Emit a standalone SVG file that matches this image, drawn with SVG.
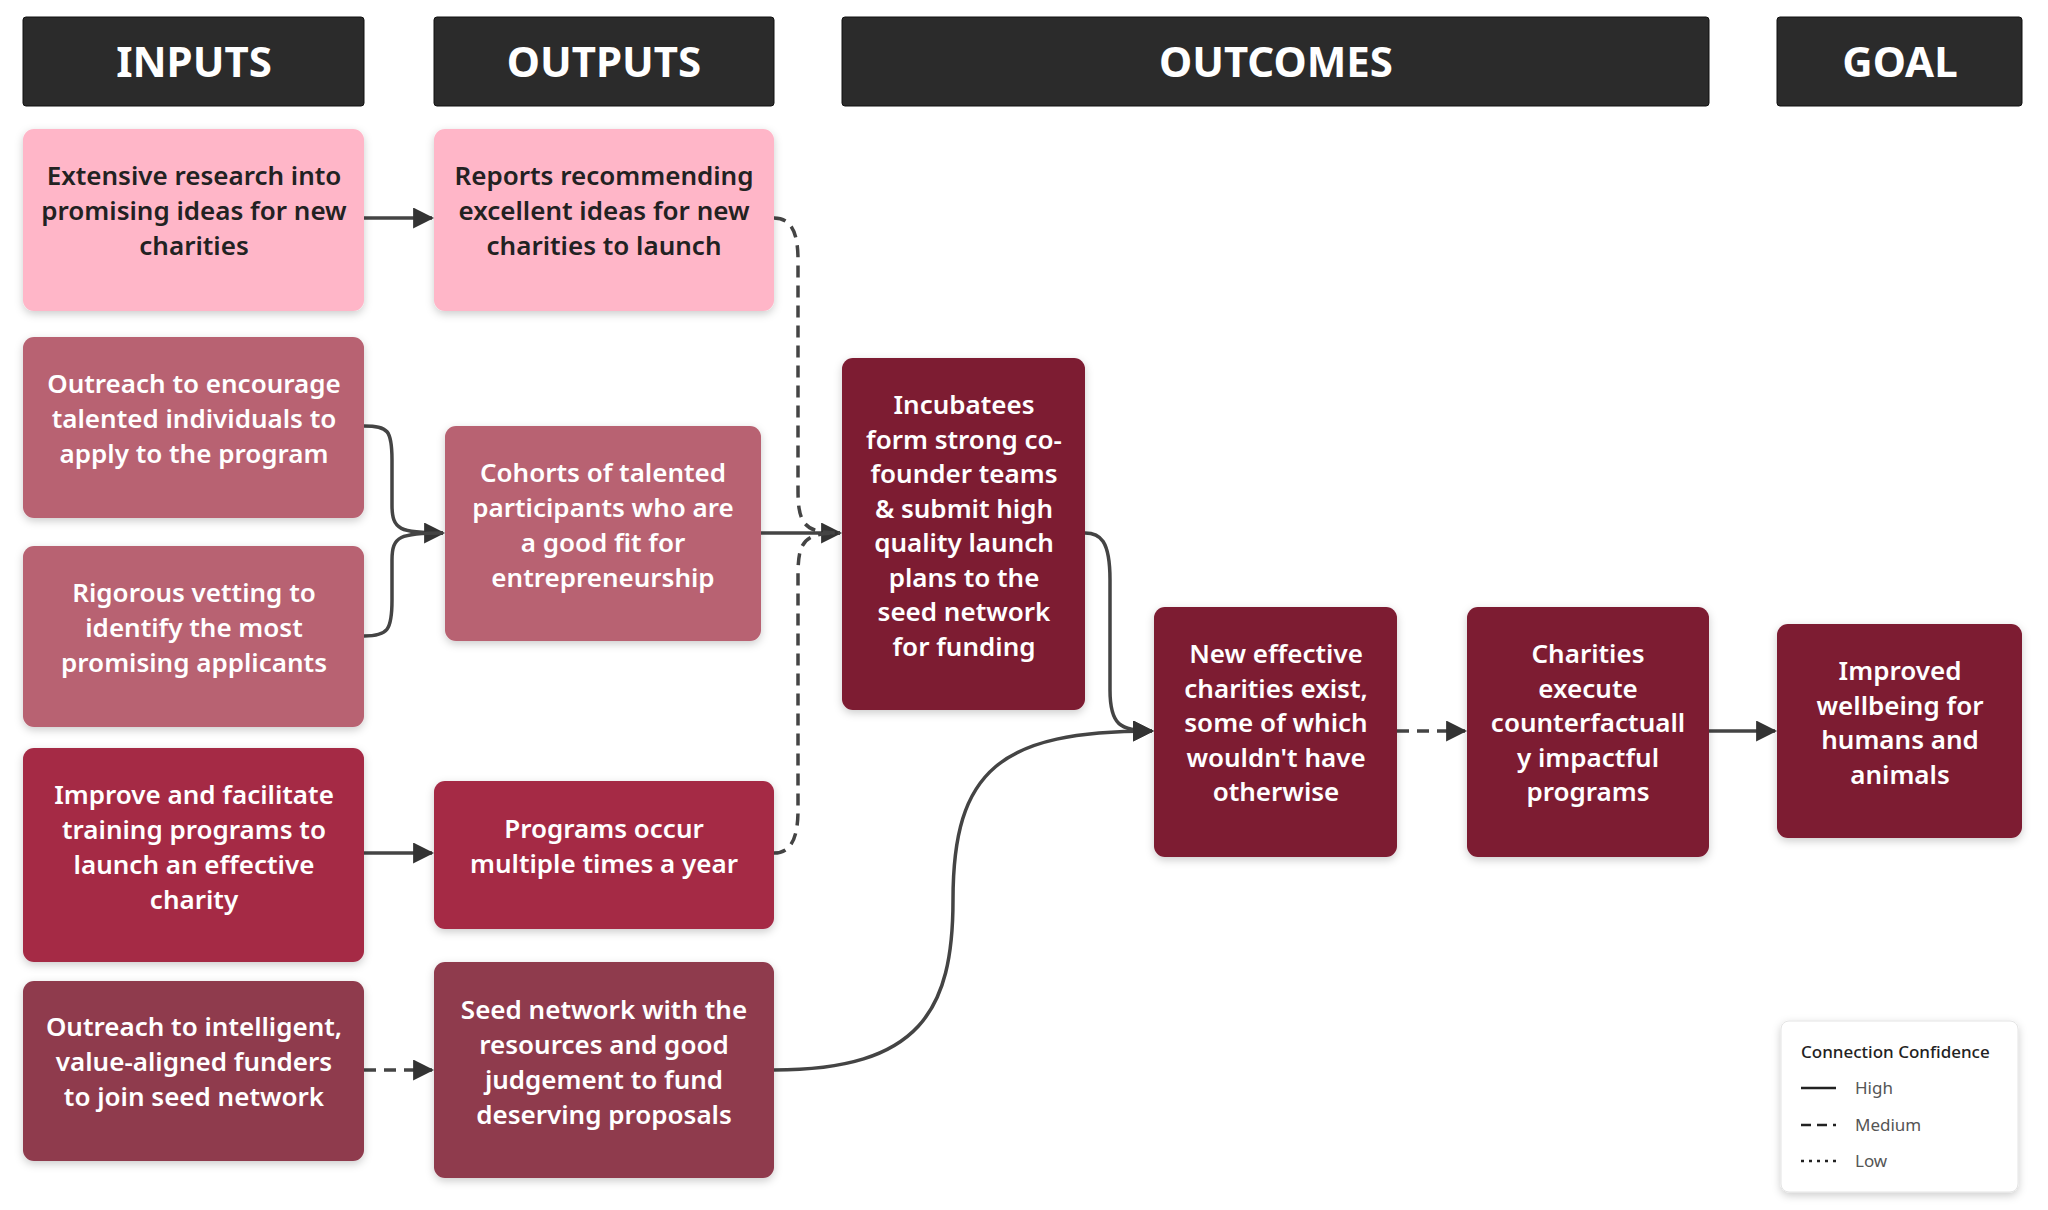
<svg xmlns="http://www.w3.org/2000/svg" width="2048" height="1210" viewBox="0 0 2048 1210">
<defs>
<style>
.hd{fill:#2b2b2b;stroke:#111;stroke-width:1}
.ht{font-family:"Noto Sans","Open Sans",sans-serif;font-weight:700;font-size:42px;fill:#fff;text-anchor:middle}
.t{font-family:"Noto Sans","Open Sans",sans-serif;font-weight:600;font-size:26px;text-anchor:middle;fill:#fff}
.dk{fill:#222}
.c{fill:none;stroke:#444;stroke-width:3.5}
.d{stroke-dasharray:12 8}
.lg{font-family:"Noto Sans","Open Sans",sans-serif;font-size:17px;fill:#555}
</style>
<filter id="sh" x="-10%" y="-10%" width="130%" height="130%"><feDropShadow dx="0" dy="3" stdDeviation="4" flood-color="#000" flood-opacity="0.2"/></filter>
<marker id="a" viewBox="0 0 10 10" refX="9" refY="5" markerWidth="6" markerHeight="6" orient="auto"><path d="M0,0L10,5L0,10z" fill="#333"/></marker>
</defs>
<rect width="2048" height="1210" fill="#fff"/>
<g id="headers">
<rect class="hd" x="23" y="17" width="341" height="89" rx="3"/><text class="ht" x="194" y="77">INPUTS</text>
<rect class="hd" x="434" y="17" width="340" height="89" rx="3"/><text class="ht" x="604" y="77">OUTPUTS</text>
<rect class="hd" x="842" y="17" width="867" height="89" rx="3"/><text class="ht" x="1276" y="77">OUTCOMES</text>
<rect class="hd" x="1777" y="17" width="245" height="89" rx="3"/><text class="ht" x="1900" y="77">GOAL</text>
</g>
<g id="connectors">
<path class="c" d="M364,218H432" marker-end="url(#a)"/>
<path class="c" d="M364,426C388,426 392,430 392,460V505C392,530 400,533 443,533" marker-end="url(#a)"/>
<path class="c" d="M364,636C388,636 392,630 392,600V560C392,536 400,533 443,533"/>
<path class="c" d="M761,533H840" marker-end="url(#a)"/>
<path class="c d" d="M774,218C790,218 798,230 798,260V490C798,525 805,533 840,533"/>
<path class="c d" d="M774,853C790,853 798,840 798,810V575C798,540 805,533 840,533"/>
<path class="c" d="M364,853H432" marker-end="url(#a)"/>
<path class="c d" d="M364,1070H432" marker-end="url(#a)"/>
<path class="c" d="M1085,533C1100,533 1110,540 1110,580V690C1110,725 1120,731 1152,731" marker-end="url(#a)"/>
<path class="c" d="M774,1070C920,1070 953,1010 953,900C953,770 1000,731 1152,731" marker-end="url(#a)"/>
<path class="c d" d="M1397,731H1465" marker-end="url(#a)"/>
<path class="c" d="M1709,731H1775" marker-end="url(#a)"/>
</g>
<g id="n1"><rect x="23" y="129" width="341" height="182" rx="11" fill="#ffb6c8" filter="url(#sh)"/><text class="t dk" x="194" y="185">Extensive research into<tspan x="194" dy="35">promising ideas for new</tspan><tspan x="194" dy="35">charities</tspan></text></g>
<g id="n2"><rect x="434" y="129" width="340" height="182" rx="11" fill="#ffb6c8" filter="url(#sh)"/><text class="t dk" x="604" y="185">Reports recommending<tspan x="604" dy="35">excellent ideas for new</tspan><tspan x="604" dy="35">charities to launch</tspan></text></g>
<g id="n3"><rect x="23" y="337" width="341" height="181" rx="11" fill="#b86272" filter="url(#sh)"/><text class="t" x="194" y="393">Outreach to encourage<tspan x="194" dy="35">talented individuals to</tspan><tspan x="194" dy="35">apply to the program</tspan></text></g>
<g id="n4"><rect x="23" y="546" width="341" height="181" rx="11" fill="#b86272" filter="url(#sh)"/><text class="t" x="194" y="602">Rigorous vetting to<tspan x="194" dy="35">identify the most</tspan><tspan x="194" dy="35">promising applicants</tspan></text></g>
<g id="n5"><rect x="445" y="426" width="316" height="215" rx="11" fill="#b86272" filter="url(#sh)"/><text class="t" x="603" y="482">Cohorts of talented<tspan x="603" dy="35">participants who are</tspan><tspan x="603" dy="35">a good fit for</tspan><tspan x="603" dy="35">entrepreneurship</tspan></text></g>
<g id="n6"><rect x="23" y="748" width="341" height="214" rx="11" fill="#a52a45" filter="url(#sh)"/><text class="t" x="194" y="804">Improve and facilitate<tspan x="194" dy="35">training programs to</tspan><tspan x="194" dy="35">launch an effective</tspan><tspan x="194" dy="35">charity</tspan></text></g>
<g id="n7"><rect x="434" y="781" width="340" height="148" rx="11" fill="#a52a45" filter="url(#sh)"/><text class="t" x="604" y="838">Programs occur<tspan x="604" dy="35">multiple times a year</tspan></text></g>
<g id="n8"><rect x="23" y="981" width="341" height="180" rx="11" fill="#8f3a4d" filter="url(#sh)"/><text class="t" x="194" y="1036">Outreach to intelligent,<tspan x="194" dy="35">value-aligned funders</tspan><tspan x="194" dy="35">to join seed network</tspan></text></g>
<g id="n9"><rect x="434" y="962" width="340" height="216" rx="11" fill="#8f3a4d" filter="url(#sh)"/><text class="t" x="604" y="1019">Seed network with the<tspan x="604" dy="35">resources and good</tspan><tspan x="604" dy="35">judgement to fund</tspan><tspan x="604" dy="35">deserving proposals</tspan></text></g>
<g id="n10"><rect x="842" y="358" width="243" height="352" rx="11" fill="#7d1a30" filter="url(#sh)"/><text class="t" x="964" y="414">Incubatees<tspan x="964" dy="34.5">form strong co-</tspan><tspan x="964" dy="34.5">founder teams</tspan><tspan x="964" dy="34.5">&amp; submit high</tspan><tspan x="964" dy="34.5">quality launch</tspan><tspan x="964" dy="34.5">plans to the</tspan><tspan x="964" dy="34.5">seed network</tspan><tspan x="964" dy="34.5">for funding</tspan></text></g>
<g id="n11"><rect x="1154" y="607" width="243" height="250" rx="11" fill="#7d1a30" filter="url(#sh)"/><text class="t" x="1276" y="663">New effective<tspan x="1276" dy="34.5">charities exist,</tspan><tspan x="1276" dy="34.5">some of which</tspan><tspan x="1276" dy="34.5">wouldn't have</tspan><tspan x="1276" dy="34.5">otherwise</tspan></text></g>
<g id="n12"><rect x="1467" y="607" width="242" height="250" rx="11" fill="#7d1a30" filter="url(#sh)"/><text class="t" x="1588" y="663">Charities<tspan x="1588" dy="34.5">execute</tspan><tspan x="1588" dy="34.5">counterfactuall</tspan><tspan x="1588" dy="34.5">y impactful</tspan><tspan x="1588" dy="34.5">programs</tspan></text></g>
<g id="n13"><rect x="1777" y="624" width="245" height="214" rx="11" fill="#7d1a30" filter="url(#sh)"/><text class="t" x="1900" y="680">Improved<tspan x="1900" dy="34.5">wellbeing for</tspan><tspan x="1900" dy="34.5">humans and</tspan><tspan x="1900" dy="34.5">animals</tspan></text></g>
<g id="legend">
<rect x="1781" y="1021" width="237" height="171" rx="8" fill="#fff" stroke="#e4e4e4" filter="url(#sh)"/>
<text class="lg" x="1801" y="1058" style="fill:#222;font-weight:500">Connection Confidence</text>
<line x1="1801" y1="1088" x2="1836" y2="1088" stroke="#222" stroke-width="2.5"/>
<text class="lg" x="1855" y="1094">High</text>
<line x1="1801" y1="1125" x2="1836" y2="1125" stroke="#222" stroke-width="2.5" stroke-dasharray="10 6"/>
<text class="lg" x="1855" y="1131">Medium</text>
<line x1="1801" y1="1161" x2="1836" y2="1161" stroke="#222" stroke-width="2.5" stroke-dasharray="3 5"/>
<text class="lg" x="1855" y="1167">Low</text>
</g>
</svg>
